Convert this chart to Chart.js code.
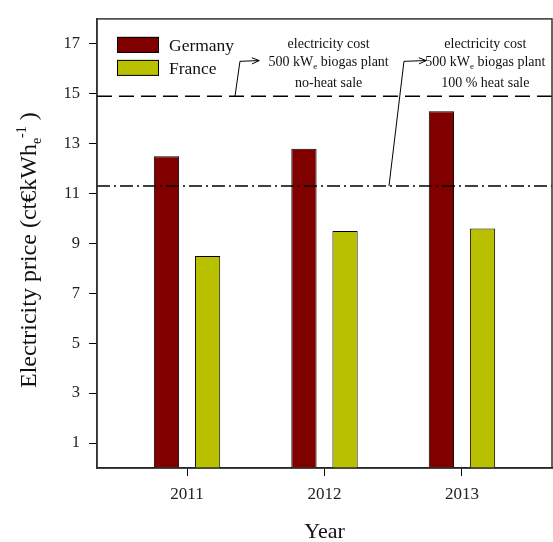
<!DOCTYPE html>
<html>
<head>
<meta charset="utf-8">
<script src="https://cdn.jsdelivr.net/npm/chart.js@4/dist/chart.umd.min.js"></script>
<style>
  html, body { margin: 0; padding: 0; background: #fff; }
  #c { display: block; }
</style>
</head>
<body>
<canvas id="c" width="553" height="542" style="width:553px;height:542px"></canvas>
<script>
// ---- data ----
const years = [2011, 2012, 2013];
const germany = [12.5, 12.8, 14.3];
const france = [8.5, 9.5, 9.6];
const yTickValues = [1, 3, 5, 7, 9, 11, 13, 15, 17];
const seriesNames = ['Germany', 'France'];
const costNoHeat = 14.9;     // dashed line
const costFullHeat = 11.3;   // dash-dot line
const annotNoHeat = ['electricity cost', '500 kW|e| biogas plant', 'no-heat sale'];
const annotFullHeat = ['electricity cost', '500 kW|e| biogas plant', '100 % heat sale'];

const SERIF = '"Liberation Serif", "DejaVu Serif", serif';
const colors = ['#800000', '#b8c000'];

function pts(vals) { return vals.map((v, i) => ({ x: years[i], y: v })); }

// draw text with a subscript segment marked |..|
function drawSubText(ctx, str, cx, baseline, size) {
  const parts = str.split('|');
  const fMain = size + 'px ' + SERIF;
  const fSub = Math.round(size * 0.62) + 'px ' + SERIF;
  let total = 0;
  parts.forEach((p, i) => { ctx.font = (i % 2) ? fSub : fMain; total += ctx.measureText(p).width; });
  let x = cx - total / 2;
  ctx.textAlign = 'left';
  parts.forEach((p, i) => {
    ctx.font = (i % 2) ? fSub : fMain;
    ctx.fillText(p, x, baseline + ((i % 2) ? 3 : 0));
    x += ctx.measureText(p).width;
  });
}

function arrow(ctx, pts) {
  ctx.beginPath();
  ctx.moveTo(pts[0][0], pts[0][1]);
  for (let i = 1; i < pts.length; i++) ctx.lineTo(pts[i][0], pts[i][1]);
  ctx.stroke();
  const [x2, y2] = pts[pts.length - 1], [x1, y1] = pts[pts.length - 2];
  const ang = Math.atan2(y2 - y1, x2 - x1);
  const L = 8, w = 0.4;
  ctx.beginPath();
  ctx.moveTo(x2 - L * Math.cos(ang - w), y2 - L * Math.sin(ang - w));
  ctx.lineTo(x2, y2);
  ctx.lineTo(x2 - L * Math.cos(ang + w), y2 - L * Math.sin(ang + w));
  ctx.stroke();
}

const overlay = {
  id: 'overlay',
  afterDatasetsDraw(chart) {
    const { ctx, chartArea: a, scales: { x, y } } = chart;
    ctx.save();
    ctx.strokeStyle = '#000';
    ctx.lineWidth = 1.5;
    ctx.setLineDash([15, 7]);
    let py = y.getPixelForValue(costNoHeat);
    ctx.beginPath(); ctx.moveTo(a.left, py); ctx.lineTo(a.right, py); ctx.stroke();
    ctx.setLineDash([13, 4, 2, 4]);
    py = y.getPixelForValue(costFullHeat);
    ctx.beginPath(); ctx.moveTo(a.left, py); ctx.lineTo(a.right, py); ctx.stroke();
    ctx.restore();
  },
  afterDraw(chart) {
    const { ctx, chartArea: a, scales: { x, y } } = chart;
    ctx.save();
    // frame
    ctx.strokeStyle = '#333';
    ctx.lineWidth = 1.5;
    ctx.strokeRect(a.left, a.top, a.right - a.left, a.bottom - a.top);

    // legend
    ctx.lineWidth = 1;
    ctx.strokeStyle = '#000';
    ctx.fillStyle = '#111';
    seriesNames.forEach((n, i) => {
      const by = a.top + 18 + i * 23;
      ctx.fillStyle = colors[i];
      ctx.fillRect(a.left + 20, by, 42, 16);
      ctx.strokeRect(a.left + 20.5, by + 0.5, 41, 15);
      ctx.fillStyle = '#111';
      ctx.font = '17.5px ' + SERIF;
      ctx.textAlign = 'left';
      ctx.textBaseline = 'alphabetic';
      ctx.fillText(n, a.left + 72, by + 14);
    });

    // annotations (positions in data units)
    ctx.fillStyle = '#111';
    ctx.textBaseline = 'alphabetic';
    const lineYs = [16.85, 16.1, 15.27];
    annotNoHeat.forEach((t, i) => drawSubText(ctx, t, x.getPixelForValue(2012.03), y.getPixelForValue(lineYs[i]), 14));
    annotFullHeat.forEach((t, i) => drawSubText(ctx, t, x.getPixelForValue(2013.17), y.getPixelForValue(lineYs[i]), 14));
    ctx.strokeStyle = '#000';
    ctx.lineWidth = 1;
    arrow(ctx, [[x.getPixelForValue(2011.349), y.getPixelForValue(costNoHeat)],
                [x.getPixelForValue(2011.385), y.getPixelForValue(16.3)],
                [x.getPixelForValue(2011.525), y.getPixelForValue(16.33)]]);
    arrow(ctx, [[x.getPixelForValue(2012.469), y.getPixelForValue(costFullHeat)],
                [x.getPixelForValue(2012.578), y.getPixelForValue(16.3)],
                [x.getPixelForValue(2012.74), y.getPixelForValue(16.33)]]);

    // x title
    ctx.font = '22px ' + SERIF;
    ctx.textAlign = 'center';
    ctx.fillText('Year', (a.left + a.right) / 2, 538);

    // y title (rotated, with sub/superscript)
    ctx.translate(36, 388);
    ctx.rotate(-Math.PI / 2);
    ctx.textAlign = 'left';
    let cx = 0;
    const seg = (t, size, dy) => {
      ctx.font = size + 'px ' + SERIF;
      ctx.fillText(t, cx, dy);
      cx += ctx.measureText(t).width;
    };
    seg('Electricity price (ct\u20ACkWh', 24, 0);
    seg('e', 14, 5);
    seg('-1', 14, -10);
    seg(' )', 24, 0);
    ctx.restore();
  }
};

new Chart(document.getElementById('c'), {
  type: 'bar',
  data: {
    datasets: [
      { label: seriesNames[0], data: pts(germany), backgroundColor: colors[0], borderColor: '#000', borderWidth: 1 },
      { label: seriesNames[1], data: pts(france), backgroundColor: colors[1], borderColor: '#000', borderWidth: 1 }
    ]
  },
  options: {
    responsive: false,
    animation: false,
    devicePixelRatio: 1,
    categoryPercentage: 0.598,
    barPercentage: 0.615,
    layout: { padding: { top: 14, right: 1, left: 0, bottom: 0 } },
    plugins: { legend: { display: false }, tooltip: { enabled: false } },
    scales: {
      x: {
        type: 'linear',
        offset: false,
        min: 2010.345,
        max: 2013.655,
        afterBuildTicks: (s) => { s.ticks = years.map(v => ({ value: v })); },
        afterFit: (s) => { s.height = 74; },
        ticks: { callback: (v) => String(v), color: '#222', font: { family: SERIF, size: 17 }, padding: 8, maxRotation: 0 },
        grid: { display: true, offset: false, drawOnChartArea: false, drawTicks: true, tickLength: 8, color: '#000' },
        border: { display: true, color: '#000', width: 1.5 }
      },
      y: {
        type: 'linear',
        min: 0,
        max: 18,
        afterBuildTicks: (s) => { s.ticks = yTickValues.map(v => ({ value: v })); },
        afterFit: (s) => { s.width = 97; },
        ticks: { color: '#222', font: { family: SERIF, size: 16.5 }, padding: 9 },
        grid: { display: true, drawOnChartArea: false, drawTicks: true, tickLength: 8, color: '#000' },
        border: { display: true, color: '#333', width: 1.5 }
      }
    }
  },
  plugins: [overlay]
});
</script>
</body>
</html>
